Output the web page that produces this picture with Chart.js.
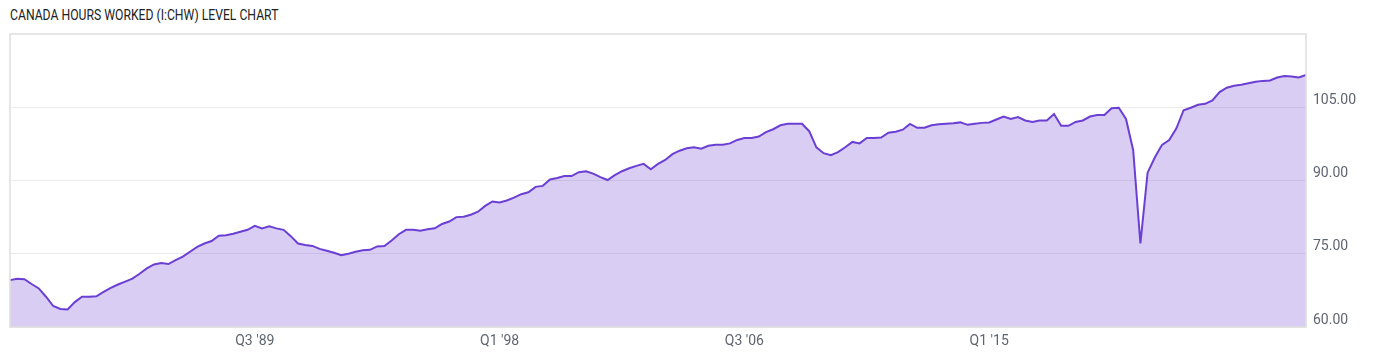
<!DOCTYPE html>
<html>
<head>
<meta charset="utf-8">
<script src="https://cdn.jsdelivr.net/npm/chart.js@4"></script>
<style>
    html, body { margin: 0; padding: 0; background: #fff; }
    .wrap { position: relative; width: 1400px; height: 357px; }
    #title {
        position: absolute; left: 10px; top: 7px;
        font-family: Roboto, sans-serif; font-size: 14px; color: #222;
        white-space: nowrap; transform-origin: 0 0;
    }
    canvas { position: absolute; left: 0; top: 0; }
</style>
</head>
<body>
<div class="wrap">
    <div id="title">CANADA HOURS WORKED (I:CHW) LEVEL CHART</div>
    <canvas id="chart" width="1400" height="357"></canvas>
</div>
<script>
// Quarterly series, Q1 1981 onwards
const startYear = 1981;
const hoursWorked = [
    69.6, 69.9, 69.8, 68.8, 67.9, 66.2, 64.3, 63.7, 63.6, 65.1,
    66.2, 66.2, 66.3, 67.2, 68.0, 68.7, 69.3, 69.9, 70.9, 72.0,
    72.8, 73.1, 72.9, 73.7, 74.4, 75.4, 76.4, 77.1, 77.6, 78.7,
    78.8, 79.1, 79.5, 79.9, 80.7, 80.2, 80.6, 80.2, 79.9, 78.6,
    77.1, 76.8, 76.6, 76.0, 75.6, 75.2, 74.7, 75.0, 75.4, 75.7,
    75.8, 76.5, 76.6, 77.7, 79.0, 79.9, 79.9, 79.7, 80.0, 80.2,
    81.1, 81.6, 82.5, 82.6, 83.0, 83.6, 84.8, 85.7, 85.5, 85.9,
    86.5, 87.2, 87.6, 88.7, 88.9, 90.2, 90.5, 90.9, 90.9, 91.7,
    91.9, 91.4, 90.7, 90.1, 91.1, 91.9, 92.5, 93.0, 93.4, 92.3,
    93.4, 94.2, 95.4, 96.1, 96.6, 96.8, 96.5, 97.1, 97.3, 97.3,
    97.6, 98.3, 98.7, 98.7, 99.0, 99.9, 100.5, 101.3, 101.6, 101.6,
    101.6, 100.1, 96.8, 95.6, 95.2, 95.8, 96.8, 97.9, 97.6, 98.7,
    98.7, 98.8, 99.8, 100.0, 100.4, 101.6, 100.8, 100.8, 101.3, 101.5,
    101.6, 101.7, 101.9, 101.4, 101.6, 101.8, 101.9, 102.5, 103.1, 102.6,
    103.0, 102.3, 102.0, 102.3, 102.3, 103.6, 101.2, 101.2, 102.0, 102.3,
    103.1, 103.4, 103.4, 104.8, 104.9, 102.6, 96.2, 77.1, 91.6, 94.7,
    97.3, 98.3, 100.7, 104.4, 104.9, 105.5, 105.7, 106.4, 108.1, 109.0,
    109.4, 109.6, 109.9, 110.2, 110.4, 110.5, 111.1, 111.4, 111.3, 111.1,
    111.6
];
const quarters = hoursWorked.map((v, i) =>
    'Q' + (i % 4 + 1) + " '" + String(startYear + Math.floor(i / 4)).slice(2));
const shownTicks = ["Q3 '89", "Q1 '98", "Q3 '06", "Q1 '15"];
const yTicks = [60, 75, 90, 105, 120];

const lineColor = '#6b3fd4';
const gridColor = '#ebebeb';
const tickColor = '#5f6570';

// squeeze the title a bit, the original font is a condensed one
const title = document.getElementById('title');
title.style.transform = 'scaleX(' + (268 / title.offsetWidth) + ')';

// light box around the plot area
const frame = {
    id: 'frame',
    afterDraw(chart) {
        const a = chart.chartArea;
        const ctx = chart.ctx;
        ctx.save();
        ctx.strokeStyle = '#dedede';
        ctx.lineWidth = 1.5;
        ctx.strokeRect(a.left, a.top, a.right - a.left, a.bottom - a.top);
        ctx.restore();
    }
};

new Chart(document.getElementById('chart'), {
    type: 'line',
    data: {
        labels: quarters,
        datasets: [{
            data: hoursWorked,
            borderColor: lineColor,
            backgroundColor: 'rgba(107, 63, 212, 0.26)',
            borderWidth: 2,
            pointRadius: 0,
            tension: 0,
            fill: 'start'
        }]
    },
    options: {
        responsive: false,
        animation: false,
        layout: { padding: { left: 10, top: 34, right: 0, bottom: 0 } },
        plugins: {
            legend: { display: false },
            tooltip: { enabled: false }
        },
        scales: {
            x: {
                offset: false,
                border: { display: false },
                grid: {
                    drawTicks: false,
                    color: ctx => shownTicks.includes(quarters[ctx.index]) ? gridColor : 'transparent'
                },
                ticks: {
                    autoSkip: false,
                    maxRotation: 0,
                    minRotation: 0,
                    padding: 6,
                    color: tickColor,
                    font: { family: 'Roboto', size: 14 },
                    callback: (v, i) => shownTicks.includes(quarters[i]) ? quarters[i] : null
                },
                afterFit: s => { s.height = 30; }
            },
            y: {
                position: 'right',
                min: yTicks[0],
                max: yTicks[yTicks.length - 1],
                border: { display: false },
                grid: { drawTicks: false, color: gridColor },
                afterBuildTicks: s => { s.ticks = yTicks.map(v => ({ value: v })); },
                ticks: {
                    padding: 7,
                    labelOffset: -7,
                    color: tickColor,
                    font: { family: 'Roboto', size: 14 },
                    callback: v => v === 120 ? null : v.toFixed(2)
                },
                afterFit: s => { s.width = 94; }
            }
        }
    },
    plugins: [frame]
});
</script>
</body>
</html>
